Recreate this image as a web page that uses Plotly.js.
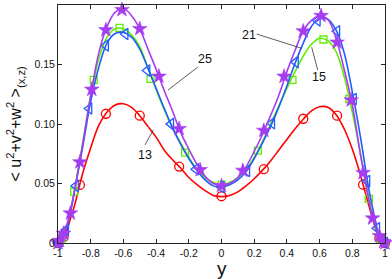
<!DOCTYPE html>
<html>
<head>
<meta charset="utf-8">
<script src="https://cdn.plot.ly/plotly-3.0.1.min.js"></script>
<style>
html,body{margin:0;padding:0;background:#fff;}
#chart{width:392px;height:279px;}
</style>
</head>
<body>
<div id="chart"></div>
<script>
// ---- data ----
const xLine = [-1,-0.975,-0.95,-0.925,-0.9,-0.85,-0.8,-0.75,-0.7,-0.65,-0.6,-0.55,-0.5,-0.45,-0.4,-0.35,-0.3,-0.25,-0.2,-0.15,-0.1,-0.05,0,0.05,0.1,0.15,0.2,0.25,0.3,0.35,0.4,0.45,0.5,0.55,0.6,0.65,0.7,0.75,0.8,0.85,0.9,0.925,0.95,0.975,1];

const line13 = [0,0.003,0.009,0.02,0.031,0.058,0.080,0.099,0.110,0.116,0.117,0.114,0.107,0.098,0.089,0.078,0.070,0.063,0.055,0.049,0.044,0.040,0.039,0.040,0.043,0.048,0.054,0.061,0.069,0.078,0.087,0.096,0.104,0.111,0.1145,0.114,0.108,0.096,0.079,0.057,0.032,0.020,0.009,0.003,0];
const line15 = [0,0.004,0.012,0.025,0.044,0.083,0.124,0.155,0.173,0.180,0.180,0.175,0.165,0.147,0.129,0.112,0.097,0.084,0.072,0.062,0.055,0.051,0.049,0.051,0.055,0.062,0.072,0.085,0.100,0.115,0.130,0.144,0.157,0.167,0.172,0.170,0.161,0.140,0.110,0.075,0.038,0.022,0.010,0.003,0];
const line21 = [0,0.004,0.011,0.026,0.043,0.080,0.119,0.148,0.168,0.176,0.177,0.173,0.163,0.147,0.130,0.113,0.097,0.083,0.071,0.061,0.053,0.048,0.047,0.049,0.053,0.060,0.071,0.084,0.098,0.114,0.132,0.151,0.168,0.182,0.189,0.188,0.179,0.160,0.127,0.089,0.046,0.029,0.013,0.004,0];
const line25 = [0,0.006,0.014,0.025,0.043,0.082,0.124,0.160,0.182,0.194,0.197,0.191,0.180,0.163,0.146,0.128,0.111,0.093,0.079,0.066,0.056,0.050,0.048,0.050,0.055,0.064,0.077,0.091,0.107,0.124,0.144,0.162,0.178,0.187,0.191,0.188,0.172,0.146,0.116,0.074,0.037,0.021,0.011,0.004,0];

const xMark13 = [-1,-0.9659,-0.866,-0.7071,-0.5,-0.2588,0,0.2588,0.5,0.7071,0.866,0.9659,1];
const yMark13 = [0,0.005,0.0488,0.1086,0.107,0.0642,0.0393,0.062,0.1044,0.107,0.049,0.004,0];

const xMark15 = [-1,-0.9749,-0.901,-0.7818,-0.6235,-0.4339,-0.2225,0,0.2225,0.4339,0.6235,0.7818,0.901,0.9749,1];
const yMark15 = [0,0.004,0.0432,0.137,0.1807,0.138,0.076,0.049,0.0777,0.137,0.171,0.121,0.037,0.003,0];

const xMark21 = [-1,-0.9877,-0.9511,-0.891,-0.809,-0.7071,-0.5878,-0.454,-0.309,-0.1564,0,0.1564,0.309,0.454,0.5878,0.7071,0.809,0.891,0.9511,0.9877,1];
const yMark21 = [0,0.002,0.011,0.048,0.113,0.166,0.1757,0.145,0.0999,0.062,0.047,0.0606,0.1007,0.152,0.187,0.178,0.121,0.052,0.0124,0.002,0];

const xMark25 = [-1,-0.9914,-0.9659,-0.9239,-0.866,-0.7934,-0.7071,-0.6088,-0.5,-0.3827,-0.2588,-0.1305,0,0.1305,0.2588,0.3827,0.5,0.6088,0.7071,0.7934,0.866,0.9239,0.9659,0.9914,1];
const yMark25 = [0,0.002,0.008,0.025,0.068,0.129,0.179,0.196,0.180,0.140,0.096,0.0614,0.048,0.0609,0.0945,0.140,0.178,0.191,0.1686,0.120,0.059,0.0208,0.006,0.001,0];

const xTicks = [-1,-0.8,-0.6,-0.4,-0.2,0,0.2,0.4,0.6,0.8,1];
const xTickText = ['-1','-0.8','-0.6','-0.4','-0.2','0','0.2','0.4','0.6','0.8','1'];
const yTicks = [0,0.05,0.1,0.15,0.2];
const yTickText = ['0','0.05','0.10','0.15','0.20'];

const seriesLabels = ['13','15','21','25'];

// ---- styling ----
const colors = {r:'#ff0000', g:'#5fee00', b:'#1f5cff', p:'#a63cf0'};
const FONT = 'Liberation Sans, Arial, Helvetica, sans-serif';

function lineTrace(y, c){
  return {x:xLine, y:y, mode:'lines', line:{color:c, width:1.6, shape:'spline', smoothing:1}, hoverinfo:'skip', showlegend:false};
}
function markTrace(x, y, c, sym, size){
  const filled = sym === 'star';
  return {x:x, y:y, mode:'markers', cliponaxis:false, showlegend:false,
    marker:{symbol:sym, size:size, color: c, line:{color:c, width: filled?0.6:1.3}}};
}

const data = [
  lineTrace(line13, colors.r), markTrace(xMark13, yMark13, colors.r, 'circle-open', 9),
  lineTrace(line15, colors.g), markTrace(xMark15, yMark15, colors.g, 'square-open', 7),
  lineTrace(line21, colors.b), markTrace(xMark21, yMark21, colors.b, 'triangle-left-open', 10),
  lineTrace(line25, colors.p), markTrace(xMark25, yMark25, colors.p, 'star', 11)
];

const axisCommon = {
  showgrid:false, zeroline:false, showline:true, linecolor:'#262626', linewidth:1,
  mirror:'allticks', ticks:'inside', ticklen:4, tickwidth:1, tickcolor:'#262626',
  tickfont:{family:FONT, size:10.5, color:'#111'}, fixedrange:true
};

const leader = (x0,y0,x1,y1)=>({type:'line', xref:'x', yref:'y', x0:x0, y0:y0, x1:x1, y1:y1, line:{color:'#333', width:0.8}});
const lbl = (t,x,y)=>({text:t, x:x, y:y, xref:'x', yref:'y', showarrow:false, xanchor:'center', yanchor:'middle', font:{family:FONT, size:12.5, color:'#111'}});

const layout = {
  width:392, height:279,
  margin:{l:58, r:7, t:5, b:36},
  paper_bgcolor:'#fff', plot_bgcolor:'#fff',
  font:{family:FONT},
  xaxis: Object.assign({}, axisCommon, {range:[-1,1], tickmode:'array', tickvals:xTicks, ticktext:xTickText}),
  yaxis: Object.assign({}, axisCommon, {range:[0,0.2], tickmode:'array', tickvals:yTicks, ticktext:yTickText}),
  shapes:[
    leader(-0.327,0.1286,-0.144,0.1479),
    leader(0.2153,0.1756,0.4905,0.1636),
    leader(0.5517,0.1645,0.5884,0.1454),
    leader(-0.4171,0.0950,-0.4679,0.0824)
  ],
  annotations:[
    lbl(seriesLabels[3], -0.101, 0.1546),
    lbl(seriesLabels[2], 0.170, 0.1748),
    lbl(seriesLabels[1], 0.598, 0.1392),
    lbl(seriesLabels[0], -0.468, 0.0739),
    {text:'< u<sup>2</sup>+v<sup>2</sup>+w<sup>2</sup> ><sub>(x,z)</sub>', xref:'paper', yref:'paper',
     x:-0.13, y:0.5, xanchor:'center', yanchor:'middle', textangle:-90, showarrow:false,
     font:{family:FONT, size:16, color:'#111'}},
    {text:'y', xref:'x', yref:'paper', x:0, y:-0.108, xanchor:'center', yanchor:'middle', showarrow:false,
     font:{family:FONT, size:19, color:'#111'}}
  ]
};

Plotly.newPlot('chart', data, layout, {displayModeBar:false, staticPlot:true});
</script>
</body>
</html>
